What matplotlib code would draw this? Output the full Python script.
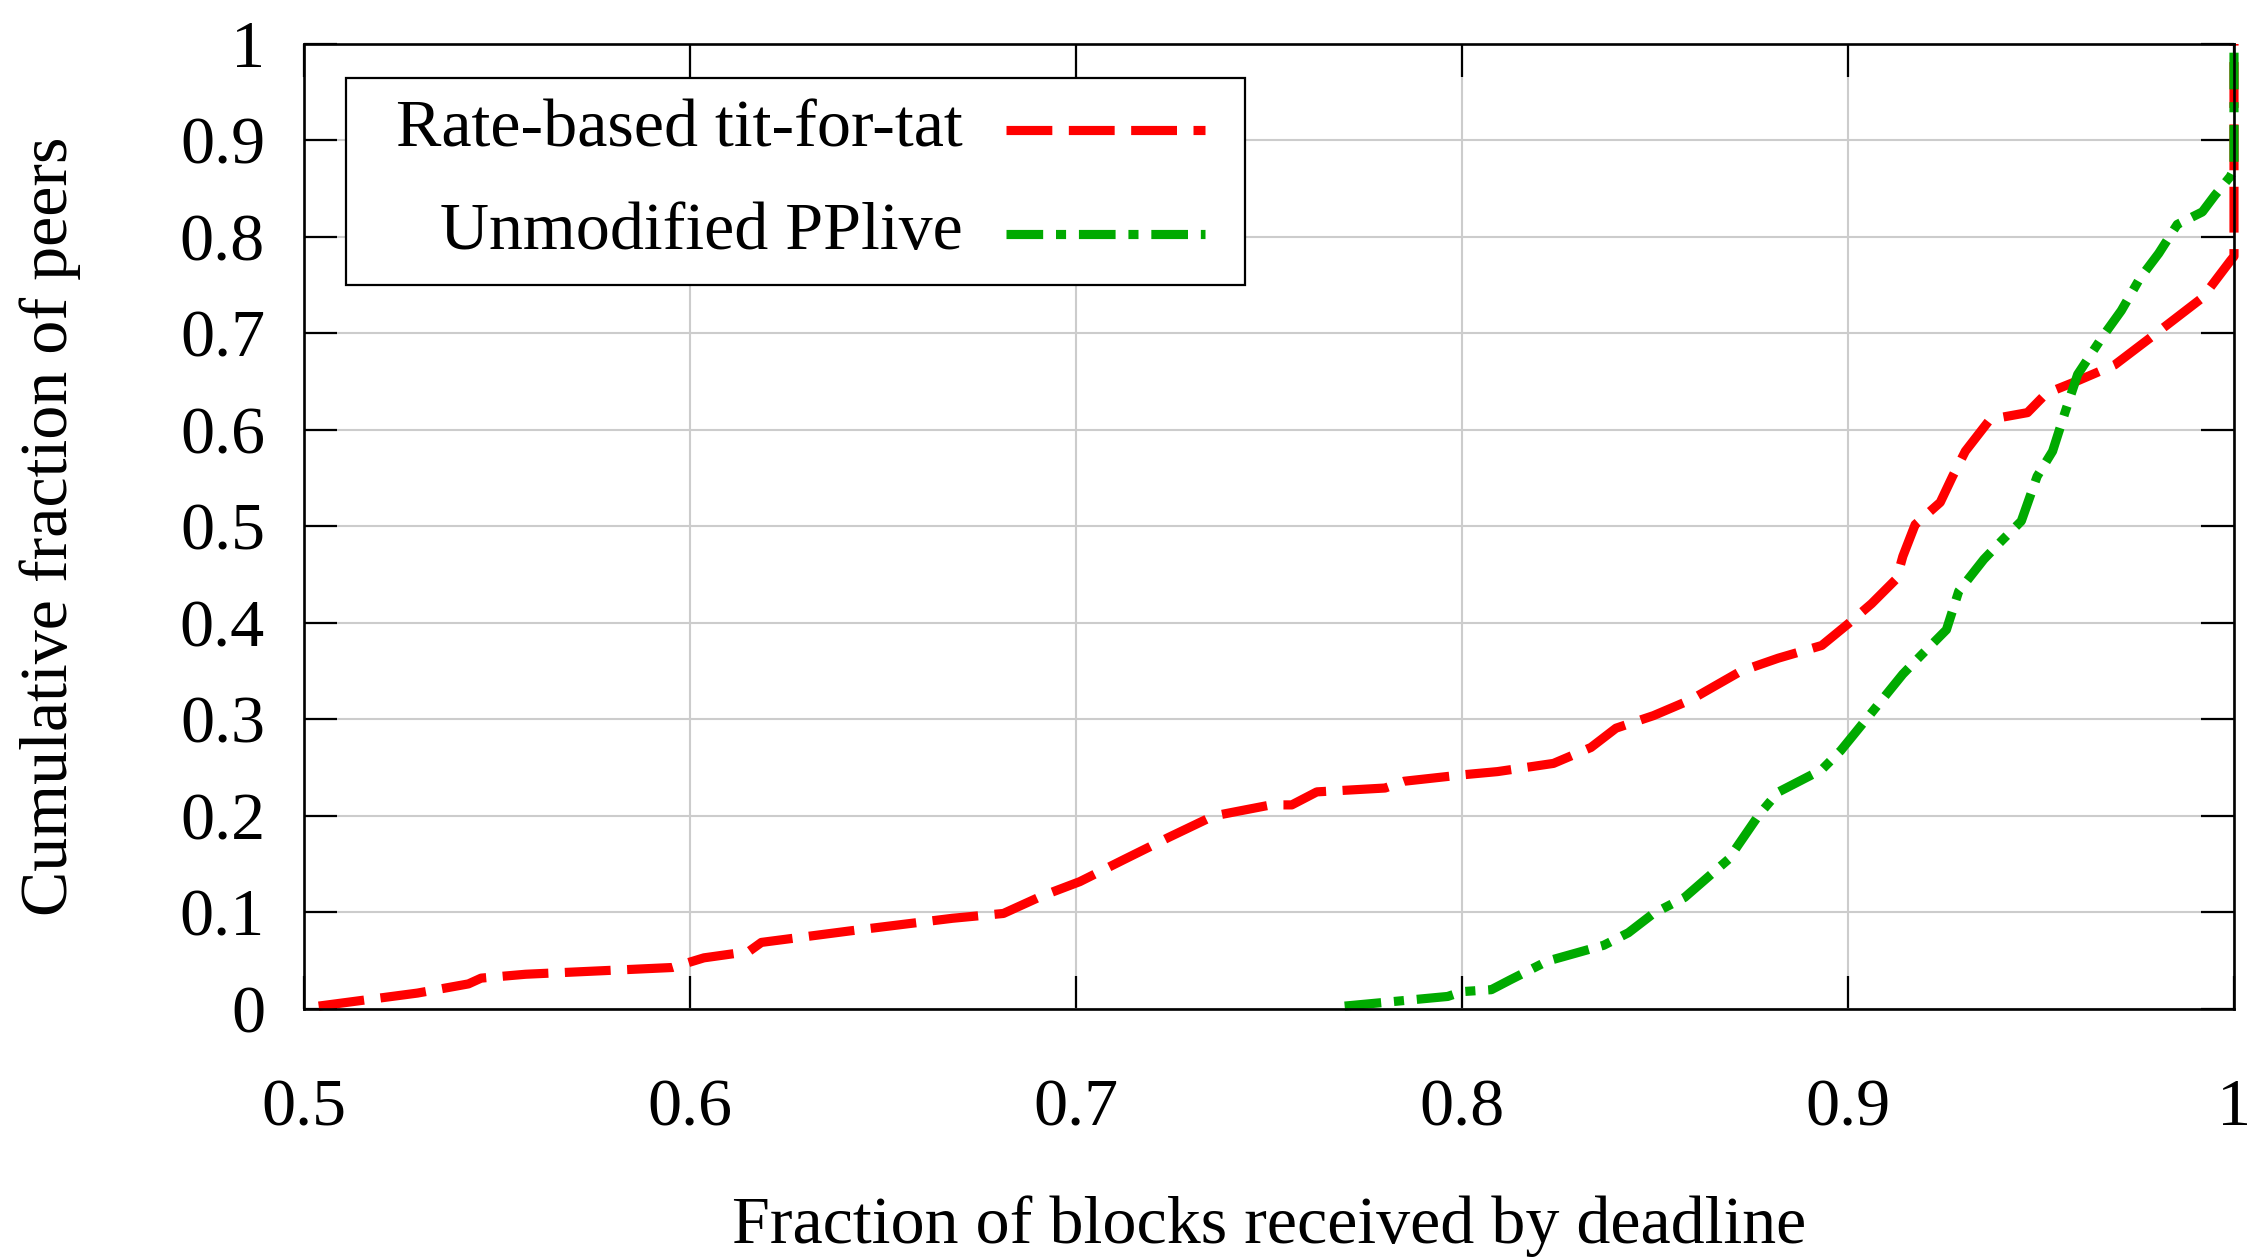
import matplotlib
matplotlib.use("Agg")
import matplotlib.pyplot as plt
from matplotlib.patches import Rectangle
from matplotlib.lines import Line2D
from matplotlib.ticker import FuncFormatter

# ---- data ----
rate_x = [0.5038, 0.5294, 0.5426, 0.5459, 0.5574, 0.5954, 0.6036, 0.6152, 0.6185,
          0.6416, 0.668, 0.6812, 0.6911, 0.701, 0.7125, 0.7241, 0.7356, 0.7505,
          0.7559, 0.7624, 0.7801, 0.785, 0.8, 0.8092, 0.8237, 0.8334, 0.8399,
          0.8496, 0.8593, 0.8722, 0.8819, 0.8932, 0.9, 0.9061, 0.9126, 0.9142,
          0.9174, 0.9239, 0.9271, 0.9304, 0.9368, 0.9465, 0.9514, 0.9595, 0.9691,
          0.9788, 0.9853, 0.9918, 0.999, 1.0, 1.0]
rate_y = [0.003, 0.0165, 0.026, 0.032, 0.036, 0.043, 0.053, 0.0595, 0.069,
          0.081, 0.094, 0.099, 0.117, 0.132, 0.155, 0.178, 0.200, 0.2115,
          0.2115, 0.225, 0.229, 0.236, 0.2426, 0.246, 0.2545, 0.271, 0.291,
          0.304, 0.3205, 0.350, 0.3635, 0.3767, 0.399, 0.42, 0.446, 0.469,
          0.502, 0.525, 0.552, 0.578, 0.611, 0.618, 0.638, 0.651, 0.6675,
          0.697, 0.717, 0.737, 0.775, 0.78, 1.0]

pplive_x = [0.7696, 0.7963, 0.8, 0.8076, 0.8124, 0.8221, 0.8367, 0.8431, 0.8496,
            0.8577, 0.869, 0.877, 0.8819, 0.8932, 0.8981, 0.9061, 0.9142, 0.919,
            0.9255, 0.9287, 0.9352, 0.94, 0.9449, 0.949, 0.953, 0.9562, 0.9595,
            0.966, 0.9708, 0.9756, 0.9805, 0.9853, 0.9918, 0.995, 0.999, 1.0, 1.0]
pplive_y = [0.003, 0.013, 0.018, 0.02, 0.03, 0.0496, 0.066, 0.079, 0.099,
            0.1157, 0.155, 0.2016, 0.2247, 0.248, 0.2677, 0.307, 0.347, 0.3668,
            0.393, 0.433, 0.466, 0.486, 0.5056, 0.552, 0.578, 0.618, 0.6576,
            0.697, 0.7237, 0.757, 0.783, 0.813, 0.826, 0.843, 0.8625, 0.87, 1.0]

labels = ["Rate-based tit-for-tat", "Unmodified PPlive"]
x_ticks = [0.5, 0.6, 0.7, 0.8, 0.9, 1.0]
y_ticks = [0, 0.1, 0.2, 0.3, 0.4, 0.5, 0.6, 0.7, 0.8, 0.9, 1.0]
xlabel = "Fraction of blocks received by deadline"
ylabel = "Cumulative fraction of peers"

RED = "#ff0000"
GREEN = "#00aa00"
FS = 49

plt.rcParams['font.family'] = ['Liberation Serif', 'DejaVu Serif']

fig = plt.figure(figsize=(22.58, 12.57), dpi=100)
ax = fig.add_axes([0.13463, 0.19730, 0.85474, 0.76770])

lw = 6.6
RED_DASH = (5.0, 1.8)
GREEN_DASH = (4.0, 1.4, 1.1, 1.4)
ax.plot(rate_x, rate_y, color=RED, lw=lw, dashes=RED_DASH,
        dash_capstyle='butt', clip_on=False, zorder=3)
ax.plot(pplive_x, pplive_y, color=GREEN, lw=lw, dashes=GREEN_DASH,
        dash_capstyle='butt', clip_on=False, zorder=3)

ax.set_xlim(0.5, 1.0)
ax.set_ylim(0, 1.0)
ax.set_xticks(x_ticks)
ax.set_yticks(y_ticks)

def fmt(v, pos):
    s = "%.1f" % v
    if s.endswith(".0"):
        s = s[:-2]
    return s

ax.xaxis.set_major_formatter(FuncFormatter(fmt))
ax.yaxis.set_major_formatter(FuncFormatter(fmt))

ax.grid(True, color="#cccccc", lw=1.5, zorder=0)
ax.set_axisbelow(True)
ax.tick_params(axis='both', which='major', direction='in', length=24, width=1.6,
               top=True, right=True, labelsize=FS, color='black')
ax.tick_params(axis='x', pad=50)
ax.tick_params(axis='y', pad=28)
for s in ax.spines.values():
    s.set_linewidth(1.9)
    s.set_zorder(5)

ax.set_xlabel(xlabel, fontsize=FS, va='baseline')
ax.xaxis.set_label_coords(0.5, -0.2425)
ax.set_ylabel(ylabel, fontsize=FS, va='baseline', rotation_mode='anchor')
ax.yaxis.set_label_coords(-0.1228, 0.5)

# gnuplot-style key: right-aligned labels followed by line samples
box = Rectangle((0.0218, 0.750), 0.4658, 0.215, transform=ax.transAxes,
                facecolor='white', edgecolor='black', lw=1.6, zorder=6)
ax.add_patch(box)
rows = [(0.894, 0.911, RED, RED_DASH),
        (0.788, 0.803, GREEN, GREEN_DASH)]
for lab, (ty, ly, col, dsh) in zip(labels, rows):
    ax.text(0.3415, ty, lab, transform=ax.transAxes, ha='right', va='baseline',
            fontsize=FS, zorder=7)
    ax.add_line(Line2D([0.3637, 0.4668], [ly, ly], transform=ax.transAxes,
                       color=col, lw=lw, dashes=dsh, dash_capstyle='butt', zorder=7))

fig.savefig("out.png", dpi=100)
